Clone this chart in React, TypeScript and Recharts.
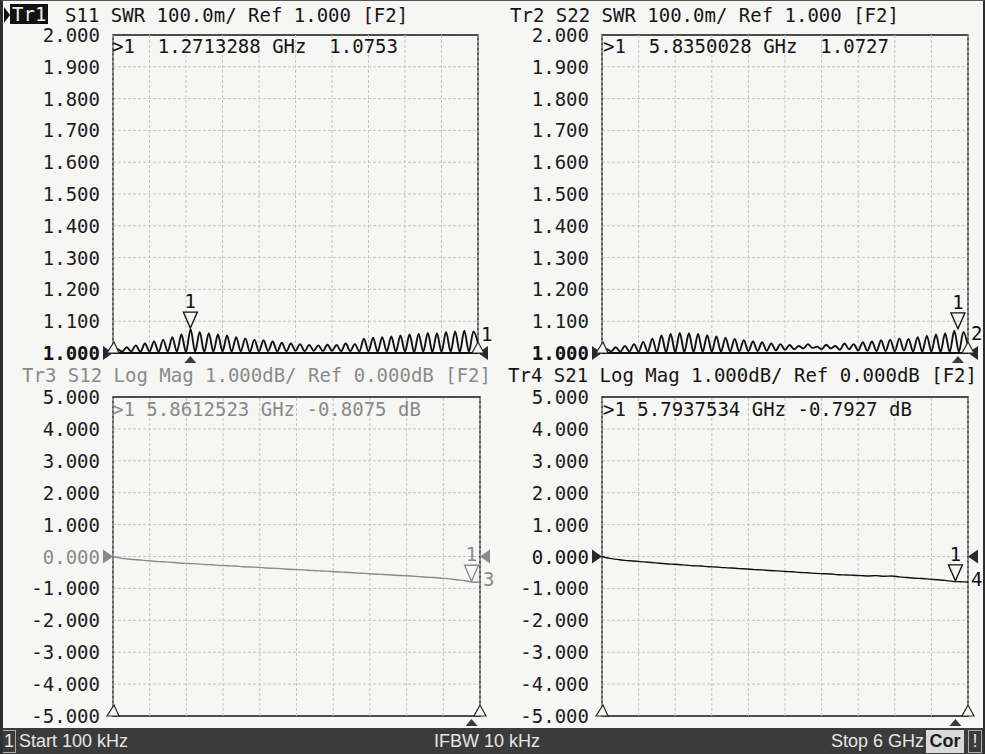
import React from 'react';
import {
  LineChart, Line, XAxis, YAxis, CartesianGrid, ReferenceArea, ReferenceLine, ReferenceDot,
} from 'recharts';

const MONO = '"DejaVu Sans Mono", "Liberation Mono", monospace';
const NARROW = '"Liberation Sans Narrow", "Liberation Sans", Arial, sans-serif';

// sweep 100 kHz .. 6 GHz, SWR read every 75 MHz (trough / crest alternating)
const swrStep = 0.075;
const s11Swr = [
  1.004, 1.012, 1.004, 1.018, 1.005, 1.024, 1.004, 1.030, 1.005, 1.036,
  1.004, 1.042, 1.005, 1.050, 1.004, 1.058, 1.003, 1.075, 1.004, 1.066,
  1.003, 1.062, 1.004, 1.058, 1.005, 1.055, 1.004, 1.050, 1.005, 1.046,
  1.004, 1.042, 1.005, 1.040, 1.006, 1.036, 1.005, 1.032, 1.006, 1.030,
  1.007, 1.028, 1.006, 1.025, 1.007, 1.024, 1.006, 1.026, 1.007, 1.025,
  1.006, 1.030, 1.006, 1.028, 1.005, 1.045, 1.005, 1.048, 1.004, 1.050,
  1.005, 1.052, 1.004, 1.055, 1.004, 1.058, 1.003, 1.060, 1.004, 1.063,
  1.003, 1.062, 1.003, 1.066, 1.004, 1.068, 1.003, 1.070, 1.004, 1.068,
  1.030,
];
const s22Swr = [
  1.004, 1.012, 1.005, 1.018, 1.004, 1.022, 1.005, 1.028, 1.004, 1.035,
  1.004, 1.045, 1.003, 1.055, 1.003, 1.060, 1.003, 1.063, 1.003, 1.062,
  1.003, 1.060, 1.004, 1.056, 1.004, 1.052, 1.004, 1.048, 1.005, 1.044,
  1.005, 1.040, 1.006, 1.036, 1.006, 1.034, 1.007, 1.030, 1.008, 1.028,
  1.010, 1.025, 1.012, 1.022, 1.014, 1.028, 1.016, 1.020, 1.012, 1.026,
  1.014, 1.022, 1.010, 1.030, 1.012, 1.028, 1.008, 1.034, 1.007, 1.036,
  1.006, 1.040, 1.006, 1.042, 1.005, 1.046, 1.008, 1.044, 1.005, 1.050,
  1.004, 1.054, 1.004, 1.058, 1.003, 1.062, 1.003, 1.070, 1.004, 1.066,
  1.020,
];

// log mag read every 125 MHz
const dbStep = 0.125;
const s12Db = [
  0.00, -0.05, -0.08, -0.10, -0.12, -0.14, -0.16, -0.17, -0.19, -0.21,
  -0.22, -0.23, -0.25, -0.26, -0.28, -0.29, -0.30, -0.32, -0.33, -0.34,
  -0.36, -0.37, -0.38, -0.40, -0.41, -0.42, -0.44, -0.45, -0.46, -0.48,
  -0.49, -0.50, -0.52, -0.53, -0.55, -0.56, -0.57, -0.59, -0.60, -0.61,
  -0.63, -0.65, -0.66, -0.68, -0.70, -0.73, -0.76, -0.80, -0.81,
];
const s21Db = [
  0.00, -0.06, -0.09, -0.12, -0.14, -0.16, -0.18, -0.20, -0.22, -0.24,
  -0.25, -0.27, -0.29, -0.30, -0.32, -0.33, -0.35, -0.36, -0.38, -0.39,
  -0.41, -0.42, -0.44, -0.45, -0.47, -0.48, -0.50, -0.51, -0.53, -0.54,
  -0.55, -0.57, -0.58, -0.59, -0.60, -0.61, -0.60, -0.62, -0.61, -0.64,
  -0.66, -0.68, -0.69, -0.71, -0.73, -0.75, -0.78, -0.79, -0.80,
];

const swrTicks = [1, 1.1, 1.2, 1.3, 1.4, 1.5, 1.6, 1.7, 1.8, 1.9, 2];
const dbTicks = [-5, -4, -3, -2, -1, 0, 1, 2, 3, 4, 5];
const freqTicks = [0, 0.6, 1.2, 1.8, 2.4, 3, 3.6, 4.2, 4.8, 5.4, 6];

// marker 1 of each trace (GHz, value)
const s11Marker = { f: 1.2713288, v: 1.0753 };
const s22Marker = { f: 5.8350028, v: 1.0727 };
const s12Marker = { f: 5.8612523, v: -0.8075 };
const s21Marker = { f: 5.7937534, v: -0.7927 };

const toRows = (vals: number[], step: number) => vals.map((v, i) => ({ f: i * step, v }));

type PanelProps = {
  left: number; top: number; width: number; height: number;
  margin: { top: number; right: number; bottom: number; left: number };
  axisW: number;
  data: { f: number; v: number }[];
  domain: [number, number];
  ticks: number[];
  refLevel: number;
  color: string;
  lineW: number;
  marker: { f: number; v: number };
  traceNo: string;
  traceNoAt: number;
  refTickColor: string;
  refTickBold: boolean;
};

function Panel(p: PanelProps) {
  const [lo, hi] = p.domain;
  const tick = (t: any) => {
    const isRef = t.payload.value === p.refLevel;
    return (
      <text x={t.x} y={t.y} dy={7} textAnchor="end" fontSize={19} fontFamily={MONO}
        fontWeight={isRef && p.refTickBold ? 'bold' : 'normal'}
        fill={isRef ? p.refTickColor : '#1c1c1c'}>
        {Number(t.payload.value).toFixed(3)}
      </text>
    );
  };
  const dark = '#2a2a2a';
  const arrowFill = p.color === '#111' ? dark : p.color;
  return (
    <div style={{ position: 'absolute', left: p.left, top: p.top }}>
      <LineChart width={p.width} height={p.height} data={p.data} margin={p.margin}>
        <CartesianGrid stroke="#c4c4c4" strokeDasharray="3 2" vertical={false} />
        <XAxis dataKey="f" type="number" domain={[0, 6]} ticks={freqTicks} tick={false}
          axisLine={false} tickLine={false} height={0} />
        <YAxis type="number" domain={p.domain} ticks={p.ticks} interval={0} width={p.axisW}
          axisLine={false} tickLine={false} tickSize={6} tickMargin={7} tick={tick} />
        {freqTicks.map((f) => (
          <ReferenceLine key={f} x={f} stroke="#c4c4c4" strokeDasharray="3 2" />
        ))}
        <ReferenceArea x1={0} x2={6} y1={lo} y2={hi} fill="none" stroke="#1a1a1a"
          strokeWidth={1.4} ifOverflow="visible" />
        {lo === p.refLevel && <ReferenceLine y={lo} stroke="#111" strokeWidth={2.2} />}
        <Line dataKey="v" type="monotone" stroke={p.color} strokeWidth={p.lineW} dot={false}
          isAnimationActive={false} />
        {/* reference level arrows */}
        <ReferenceDot x={0} y={p.refLevel} ifOverflow="visible" shape={(s: any) => (
          <polygon points={`${s.cx - 10},${s.cy - 7} ${s.cx - 10},${s.cy + 7} ${s.cx},${s.cy}`}
            fill={arrowFill} />
        )} />
        <ReferenceDot x={6} y={p.refLevel} ifOverflow="visible" shape={(s: any) => (
          <polygon points={`${s.cx + 10},${s.cy - 7} ${s.cx + 10},${s.cy + 7} ${s.cx},${s.cy}`}
            fill={arrowFill} />
        )} />
        {/* start / stop stimulus markers */}
        <ReferenceDot x={0} y={lo} ifOverflow="visible" shape={(s: any) => (
          <polygon points={`${s.cx - 6},${s.cy} ${s.cx + 6},${s.cy} ${s.cx + 1},${s.cy - 11}`}
            fill="#f6f6f4" stroke={dark} strokeWidth={1.2} />
        )} />
        <ReferenceDot x={6} y={lo} ifOverflow="visible" shape={(s: any) => (
          <polygon points={`${s.cx - 6},${s.cy} ${s.cx + 6},${s.cy} ${s.cx},${s.cy - 11}`}
            fill="#f6f6f4" stroke={dark} strokeWidth={1.2} />
        )} />
        {/* marker 1 */}
        <ReferenceDot x={p.marker.f} y={p.marker.v} ifOverflow="visible" shape={(s: any) => (
          <g>
            <polygon points={`${s.cx - 7},${s.cy - 17} ${s.cx + 7},${s.cy - 17} ${s.cx},${s.cy - 1}`}
              fill="none" stroke={p.color} strokeWidth={1.3} />
            <text x={s.cx} y={s.cy - 21} textAnchor="middle" fontSize={19} fontFamily={MONO}
              fill={p.color}>1</text>
          </g>
        )} />
        <ReferenceDot x={p.marker.f} y={lo} ifOverflow="visible" shape={(s: any) => (
          <polygon points={`${s.cx - 6},${s.cy + 10} ${s.cx + 6},${s.cy + 10} ${s.cx},${s.cy + 3}`}
            fill="#3a3a3a" />
        )} />
        <ReferenceDot x={6} y={p.traceNoAt} ifOverflow="visible" shape={(s: any) => (
          <text x={s.cx + 3} y={s.cy + 7} fontSize={19} fontFamily={MONO} fill={p.color}>
            {p.traceNo}
          </text>
        )} />
      </LineChart>
    </div>
  );
}

const abs = (left: number, top: number, extra: React.CSSProperties = {}): React.CSSProperties => ({
  position: 'absolute', left, top, whiteSpace: 'pre', fontFamily: MONO, fontSize: 19, lineHeight: '22px',
  color: '#151515', ...extra,
});

export default function App() {
  const gray = '#8a8a8a';
  return (
    <div style={{
      position: 'absolute', left: 0, top: 0, width: 985, height: 754, overflow: 'hidden',
      background: '#f6f6f4', borderLeft: '3px solid #2e2e2e', borderRight: '2px solid #2e2e2e',
      borderTop: '1px solid #555', boxSizing: 'border-box',
    }}>
      <Panel left={-3} top={-1} width={500} height={380}
        margin={{ top: 35, right: 22, bottom: 27, left: 0 }} axisW={113}
        data={toRows(s11Swr, swrStep)} domain={[1, 2]} ticks={swrTicks} refLevel={1}
        color="#111" lineW={1.9} marker={s11Marker} traceNo="1" traceNoAt={1.06}
        refTickColor="#111" refTickBold />
      <Panel left={487} top={-1} width={495} height={380}
        margin={{ top: 35, right: 17, bottom: 27, left: 0 }} axisW={112}
        data={toRows(s22Swr, swrStep)} domain={[1, 2]} ticks={swrTicks} refLevel={1}
        color="#111" lineW={1.9} marker={s22Marker} traceNo="2" traceNoAt={1.062}
        refTickColor="#111" refTickBold />
      <Panel left={-3} top={359} width={500} height={380}
        margin={{ top: 37, right: 20, bottom: 24, left: 0 }} axisW={113}
        data={toRows(s12Db, dbStep)} domain={[-5, 5]} ticks={dbTicks} refLevel={0}
        color={gray} lineW={1.4} marker={s12Marker} traceNo="3" traceNoAt={-0.7}
        refTickColor={gray} refTickBold={false} />
      <Panel left={487} top={359} width={495} height={380}
        margin={{ top: 37, right: 17, bottom: 24, left: 0 }} axisW={112}
        data={toRows(s21Db, dbStep)} domain={[-5, 5]} ticks={dbTicks} refLevel={0}
        color="#111" lineW={1.4} marker={s21Marker} traceNo="4" traceNoAt={-0.7}
        refTickColor="#111" refTickBold={false} />

      {/* channel headers */}
      <svg style={{ position: 'absolute', left: 0, top: 5 }} width={8} height={18}>
        <polygon points="1,1 1,17 7,9" fill="#111" />
      </svg>
      <div style={abs(7, 3, { background: '#111', color: '#eee', padding: '0 2px', lineHeight: '20px' })}>Tr1</div>
      <div style={abs(62, 3)}>S11 SWR 100.0m/ Ref 1.000 [F2]</div>
      <div style={abs(507, 3)}>Tr2 S22 SWR 100.0m/ Ref 1.000 [F2]</div>
      <div style={abs(19, 363, { color: gray })}>Tr3 S12 Log Mag 1.000dB/ Ref 0.000dB [F2]</div>
      <div style={abs(505, 363)}>Tr4 S21 Log Mag 1.000dB/ Ref 0.000dB [F2]</div>

      {/* marker readouts */}
      <div style={abs(109, 34)}>{'>1  1.2713288 GHz  1.0753'}</div>
      <div style={abs(600, 34)}>{'>1  5.8350028 GHz  1.0727'}</div>
      <div style={abs(109, 397, { color: gray })}>{'>1 5.8612523 GHz -0.8075 dB'}</div>
      <div style={abs(600, 397)}>{'>1 5.7937534 GHz -0.7927 dB'}</div>

      {/* status bar */}
      <div style={{
        position: 'absolute', left: -3, top: 727, width: 985, height: 27, background: '#3b3b3b',
        fontFamily: NARROW, fontSize: 18, color: '#e6e6e6', lineHeight: '27px',
      }}>
        <div style={{ position: 'absolute', left: 2, top: 2, width: 12, height: 21, border: '1px solid #aaa', lineHeight: '21px', textAlign: 'center' }}>1</div>
        <div style={{ position: 'absolute', left: 19 }}>Start 100 kHz</div>
        <div style={{ position: 'absolute', left: 434 }}>IFBW 10 kHz</div>
        <div style={{ position: 'absolute', left: 831 }}>Stop 6 GHz</div>
        <div style={{ position: 'absolute', left: 926, top: 2, width: 38, height: 23, background: '#dadada', color: '#1a1a1a', fontWeight: 'bold', textAlign: 'center', lineHeight: '23px' }}>Cor</div>
        <div style={{ position: 'absolute', left: 968, top: 2, width: 12, height: 21, border: '1px solid #aaa', lineHeight: '21px', textAlign: 'center' }}>!</div>
      </div>
    </div>
  );
}
